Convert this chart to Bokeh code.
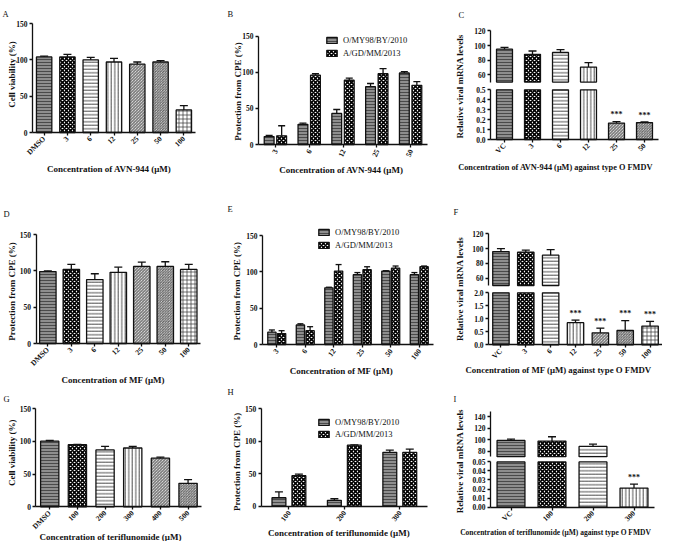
import math
import numpy as np
from bokeh.plotting import figure
from bokeh.models import (ColumnDataSource, Range1d, LinearAxis, FixedTicker,
                          NumeralTickFormatter, Label, Legend, LegendItem)
from bokeh.transform import dodge
from bokeh.layouts import row, column
from bokeh.embed import file_html
from bokeh.resources import INLINE
from bokeh.core.properties import value, field

FONT = "Liberation Serif"
INK = "#111111"

# ---------------- data ----------------
a_cats = ["DMSO", "3", "6", "12", "25", "50", "100"]
a_mean = [104, 104, 100, 97, 94, 97, 31]
a_err = [1, 3.5, 3.5, 5, 3, 2, 6]

b_cats = ["3", "6", "12", "25", "50"]
b_o_mean = [11, 28, 43, 80, 99]
b_o_err = [1.5, 1.5, 5.5, 4.5, 2]
b_a_mean = [12, 96, 89, 98, 82]
b_a_err = [14, 2, 3, 7, 5]

c_cats = ["VC", "3", "6", "12", "25", "50"]
c_mean = [95, 88, 90.5, 70.5, 0.165, 0.17]
c_err = [2.5, 4.5, 4, 6, 0.015, 0.006]
c_sig = ["", "", "", "", "***", "***"]

d_cats = ["DMSO", "3", "6", "12", "25", "50", "100"]
d_mean = [99, 102, 88, 98, 106, 106, 102]
d_err = [1, 7, 8, 7, 6, 6.5, 7]

e_cats = ["3", "6", "12", "25", "50", "100"]
e_o_mean = [17, 27, 78, 96, 101, 96]
e_o_err = [3, 1.5, 0.8, 3, 0.5, 3]
e_a_mean = [15, 19, 101, 103, 105, 107]
e_a_err = [4, 5.5, 9, 4, 3, 1]

f_cats = ["VC", "3", "6", "12", "25", "50", "100"]
f_mean = [96, 95, 91, 0.85, 0.46, 0.55, 0.72]
f_err = [4, 3, 7.5, 0.1, 0.18, 0.38, 0.18]
f_sig = ["", "", "", "***", "***", "***", "***"]

g_cats = ["DMSO", "100", "200", "300", "400", "500"]
g_mean = [100.5, 95, 87, 90, 74.5, 36]
g_err = [1, 0.5, 5.5, 2.5, 1.5, 5.5]

h_cats = ["100", "200", "300"]
h_o_mean = [13, 9, 83]
h_o_err = [9, 2.5, 3.5]
h_a_mean = [47, 94, 83]
h_a_err = [2.5, 0.5, 5]

i_cats = ["VC", "100", "200", "300"]
i_mean = [98.5, 97.5, 88, 0.021]
i_err = [2.5, 7.5, 4, 0.0045]
i_sig = ["", "", "", "***"]

strain_names = ["O/MY98/BY/2010", "A/GD/MM/2013"]

# ---------------- styles ----------------
PAT = [
    dict(fc="#8e8e8e", hp="-", hc="#4a4a4a", hs=3.0, hw=1.0),
    dict(fc="white", hp="x", hc="#000000", hs=4.0, hw=1.6),
    dict(fc="white", hp="-", hc="#222222", hs=3.5, hw=0.8),
    dict(fc="white", hp="|", hc="#222222", hs=3.5, hw=0.8),
    dict(fc="white", hp="\\", hc="#333333", hs=3.0, hw=0.8),
    dict(fc="white", hp="\\", hc="#333333", hs=2.6, hw=0.8),
    dict(fc="white", hp="+", hc="#333333", hs=4.0, hw=0.7),
]


def styles(idx):
    return {k: [PAT[i][k] for i in idx] for k in ["fc", "hp", "hc", "hs", "hw"]}


def lin_range(px_top, px_bot, v_top, v_bot, H):
    # range whose values v_top / v_bot fall at the given pixel rows of a frame H tall
    k = (px_bot - px_top) / (v_top - v_bot)
    return Range1d(v_bot - (H - px_bot) / k, v_top + px_top / k)


def new_fig(n, W, H, L, R, y_range):
    kx = (W - R - L) / n
    p = figure(width=W, height=H, x_range=Range1d(-L / kx, n + R / kx), y_range=y_range,
               output_backend="svg", toolbar_location=None, title_location=None,
               x_axis_location=None, y_axis_location=None, min_border=0,
               min_border_left=0, min_border_right=0, min_border_top=0, min_border_bottom=0)
    p.outline_line_color = None
    p.xgrid.visible = False
    p.ygrid.visible = False
    p.background_fill_color = "white"
    p.border_fill_color = "white"
    return p


def style_axis(ax, orient=None):
    ax.axis_line_width = 1.3
    ax.axis_line_color = INK
    ax.major_tick_line_width = 1.3
    ax.major_tick_line_color = INK
    ax.major_tick_out = 3
    ax.major_tick_in = 0
    ax.minor_tick_line_color = None
    ax.major_label_text_font = FONT
    ax.major_label_text_font_style = "bold"
    ax.major_label_text_font_size = "7.5px"
    ax.major_label_text_color = INK
    ax.major_label_standoff = 2
    if orient is not None:
        ax.major_label_orientation = orient


def add_x_axis(p, cats, orient):
    pos = [i + 0.5 for i in range(len(cats))]
    ax = LinearAxis(fixed_location=0, bounds=(0, len(cats)), ticker=FixedTicker(ticks=pos),
                    major_label_overrides={q: c for q, c in zip(pos, cats)})
    style_axis(ax, orient)
    p.add_layout(ax, "below")
    return pos


def add_y_axis(p, ticks, bounds, fmt=None, range_name="default"):
    ax = LinearAxis(fixed_location=0, bounds=bounds, ticker=FixedTicker(ticks=ticks),
                    y_range_name=range_name)
    if fmt:
        ax.formatter = NumeralTickFormatter(format=fmt)
    style_axis(ax)
    p.add_layout(ax, "left")


def put(p, H, lx, ly, text, size=9.0, bold=True, angle=0.0, align="center"):
    p.add_layout(Label(x=lx, y=H - ly, x_units="screen", y_units="screen", text=text,
                       angle=angle, text_font=FONT, text_font_size=f"{size}px",
                       text_font_style="bold" if bold else "normal", text_color=INK,
                       text_align=align, text_baseline="middle"))


def decorate(p, H, texts):
    letter, lxy, ytitle, yxy, xtitle, xxy, xsize = texts
    put(p, H, lxy[0], lxy[1], letter, size=8.5, bold=False, align="left")
    put(p, H, yxy[0], yxy[1], ytitle, size=9, angle=math.pi / 2)
    put(p, H, xxy[0], xxy[1], xtitle, size=xsize)


def draw_bars(p, src, x, width, **kw):
    return p.vbar(x=x, top="top", width=width, source=src, line_color=INK, line_width=1.3,
                  fill_color=field("fc"), hatch_pattern=field("hp"), hatch_color=field("hc"),
                  hatch_scale=field("hs"), hatch_weight=field("hw"), **kw)


def draw_err(p, src, x, cap, **kw):
    p.segment(x0=x, y0="top", x1=x, y1="hi", source=src, line_color=INK, line_width=1.3, **kw)
    p.scatter(x=x, y="hi", source=src, marker="dash", size=cap, line_color=INK,
              line_width=1.3, **kw)


def simple_panel(cats, mean, err, geom, width, orient, texts):
    W, H, L, R, T, Bf = geom
    n = len(cats)
    p = new_fig(n, W, H, L, R, lin_range(T, Bf, 150, 0, H))
    pos = add_x_axis(p, cats, orient)
    src = ColumnDataSource(dict(x=pos, top=mean, hi=[m + e for m, e in zip(mean, err)],
                                **styles(range(n))))
    draw_bars(p, src, "x", width)
    draw_err(p, src, "x", 8)
    add_y_axis(p, [0, 50, 100, 150], (0, 150))
    decorate(p, H, texts)
    return p


def grouped_panel(cats, om, oe, am, ae, geom, width, off, orient, cap, leg, texts):
    W, H, L, R, T, Bf = geom
    n = len(cats)
    p = new_fig(n, W, H, L, R, lin_range(T, Bf, 150, 0, H))
    pos = add_x_axis(p, cats, orient)
    so = ColumnDataSource(dict(x=pos, top=om, hi=[m + e for m, e in zip(om, oe)], **styles([0] * n)))
    sa = ColumnDataSource(dict(x=pos, top=am, hi=[m + e for m, e in zip(am, ae)], **styles([1] * n)))
    xo = dodge("x", -off)
    xa = dodge("x", off)
    ro = draw_bars(p, so, xo, width)
    ra = draw_bars(p, sa, xa, width)
    draw_err(p, so, xo, cap)
    draw_err(p, sa, xa, cap)
    add_y_axis(p, [0, 50, 100, 150], (0, 150))
    lx, lbottom, lspace = leg
    legend = Legend(items=[LegendItem(label=strain_names[0], renderers=[ro]),
                           LegendItem(label=strain_names[1], renderers=[ra])],
                    location=(lx, H - lbottom), orientation="vertical",
                    padding=0, margin=0, spacing=lspace,
                    glyph_width=13, glyph_height=8, label_height=8, label_standoff=5,
                    label_text_font=FONT, label_text_font_size="8.5px", label_text_color=INK,
                    border_line_color=None, background_fill_alpha=0)
    p.add_layout(legend)
    decorate(p, H, texts)
    return p


def broken_panel(cats, mean, err, sig, geom, seg, width, orient, texts):
    W, H, L, R, T, Bf = geom
    y_lo_top, y_up_bot, lo_max, up_min, up_max, lo_ticks, up_ticks, lo_fmt = seg
    n = len(cats)
    p = new_fig(n, W, H, L, R, lin_range(y_lo_top, Bf, lo_max, 0, H))
    p.extra_y_ranges = {"up": lin_range(T, y_up_bot, up_max, up_min, H)}
    pos = add_x_axis(p, cats, orient)
    m = np.array(mean, dtype=float)
    e = np.array(err, dtype=float)
    # lower segment: every bar, cut at the top of the segment
    lo_src = ColumnDataSource(dict(x=pos, top=np.minimum(m, lo_max), **styles(range(n))))
    draw_bars(p, lo_src, "x", width)
    small = [i for i in range(n) if m[i] <= lo_max]
    sm_src = ColumnDataSource(dict(x=[pos[i] for i in small], top=m[small], hi=(m + e)[small],
                                   sig=[sig[i] for i in small]))
    draw_err(p, sm_src, "x", 8)
    p.text(x="x", y="hi", text="sig", source=sm_src, text_font=value(FONT),
           text_font_style="bold", text_font_size="8px", text_color=INK,
           text_align="center", text_baseline="middle", y_offset=-7)
    # upper segment
    big = [i for i in range(n) if m[i] > up_min]
    up_src = ColumnDataSource(dict(x=[pos[i] for i in big], top=m[big], hi=(m + e)[big],
                                   **styles(big)))
    p.vbar(x="x", bottom=up_min, top="top", width=width, source=up_src, line_color=INK,
           line_width=1.3, fill_color=field("fc"), hatch_pattern=field("hp"),
           hatch_color=field("hc"), hatch_scale=field("hs"), hatch_weight=field("hw"),
           y_range_name="up")
    draw_err(p, up_src, "x", 8, y_range_name="up")
    add_y_axis(p, lo_ticks, (0, lo_max), lo_fmt)
    add_y_axis(p, up_ticks, (up_min, up_max), None, "up")
    decorate(p, H, texts)
    return p


Q = math.pi / 4
# column 1 (width 225)
pA = simple_panel(a_cats, a_mean, a_err, (225, 185, 32, 30, 23, 132), 0.66, Q,
                  ("A", (2, 13), "Cell viability (%)", (11.7, 74),
                   "Concentration of AVN-944 (\u03bcM)", (108.7, 168), 9))
pD = simple_panel(d_cats, d_mean, d_err, (225, 201, 35.6, 25, 49, 158), 0.7, Q,
                  ("D", (3, 28.3), "Protection from CPE (%)", (11.7, 106),
                   "Concentration of MF (\u03bcM)", (112.7, 194), 9))
pG = simple_panel(g_cats, g_mean, g_err, (225, 155, 35.4, 23.6, 22.3, 120.3), 0.66, Q,
                  ("G", (3, 12.6), "Cell viability (%)", (11.7, 66.3),
                   "Concentration of teriflunomide (\u03bcM)", (110, 150), 9))
# column 2 (width 223)
pB = grouped_panel(b_cats, b_o_mean, b_o_err, b_a_mean, b_a_err, (223, 185, 33, 21, 35.7, 144),
                   0.29, 0.185, 1.15, 7, (100, 58, 3),
                   ("B", (2, 13.3), "Protection from CPE (%)", (12.7, 91),
                    "Concentration of AVN-944 (\u03bcM)", (115.8, 169.3), 9))
pE = grouped_panel(e_cats, e_o_mean, e_o_err, e_a_mean, e_a_err, (223, 192, 37, 15, 50, 159),
                   0.29, 0.17, 0.9, 6, (92, 65, 3),
                   ("E", (2, 23.3), "Protection from CPE (%)", (11.7, 105.8),
                    "Concentration of MF (\u03bcM)", (115.8, 185), 9))
pH = grouped_panel(h_cats, h_o_mean, h_o_err, h_a_mean, h_a_err, (223, 164, 35.7, 21, 31.3, 128.7),
                   0.25, 0.18, 0.9, 8, (92, 61.5, 2),
                   ("H", (2, 14.2), "Protection from CPE (%)", (11, 84.4),
                    "Concentration of teriflunomide (\u03bcM)", (113.3, 155.7), 9))
# column 3 (width 214)
pC = broken_panel(c_cats, c_mean, c_err, c_sig, (214, 185, 42, 4, 30.4, 139),
                  (89.3, 81.6, 0.5, 50, 120, [0, 0.1, 0.2, 0.3, 0.4, 0.5], [60, 80, 100, 120], "0.0"),
                  0.57, Q,
                  ("C", (10, 14), "Relative viral mRNA levels", (11.7, 85.8),
                   "Concentration of AVN-944 (\u03bcM) against type O FMDV", (107, 166.7), 8.3))
pF = broken_panel(f_cats, f_mean, f_err, f_sig, (214, 192, 40, 0, 48.3, 159.3),
                  (107.3, 100, 2.0, 50, 120, [0, 0.5, 1.0, 1.5, 2.0], [60, 80, 100, 120], "0.0"),
                  0.66, Q,
                  ("F", (5, 26.7), "Relative viral mRNA levels", (11.7, 103.3),
                   "Concentration of MF (\u03bcM) against type O FMDV", (110, 184), 8.8))
pI = broken_panel(i_cats, i_mean, i_err, i_sig, (214, 164, 42, 8, 33.6, 129.6),
                  (84.4, 79.2, 0.05, 70, 150, [0, 0.01, 0.02, 0.03, 0.04, 0.05],
                   [80, 100, 120, 140], "0.00"),
                  0.68, Q,
                  ("I", (5, 21), "Relative viral mRNA levels", (11.7, 83.6),
                   "Concentration of teriflunomide (\u03bcM) against type O FMDV", (107, 155), 7.5))

layout = row(column(pA, pD, pG), column(pB, pE, pH), column(pC, pF, pI))

open("out.html", "w").write(file_html(layout, INLINE))
